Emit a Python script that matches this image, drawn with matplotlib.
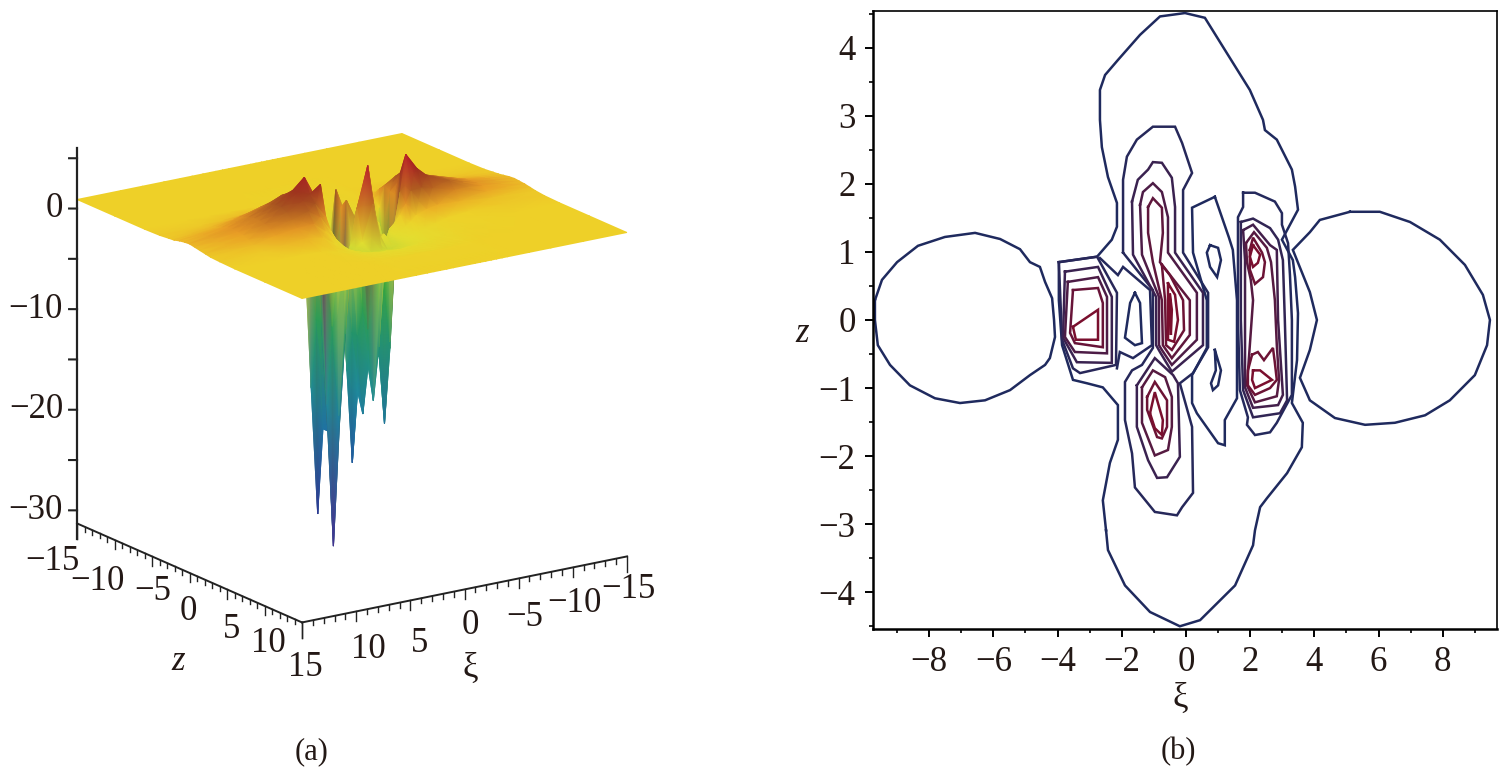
import numpy as np
import matplotlib
matplotlib.use("Agg")
import matplotlib.pyplot as plt
from matplotlib.colors import LinearSegmentedColormap, Normalize
from matplotlib.ticker import FixedLocator, MultipleLocator

plt.rcParams['font.family'] = ['Liberation Serif', 'DejaVu Serif']

# ---- panel (a): surface heights ----
xi_nodes = [-15, -11, -8, -6, -5, -4, -3.5, -3, -2.5, -2, -1.5, -1, -.5, 0, 1, 1.6, 2.2, 2.8, 3.4, 4.4, 5.5, 7, 9, 11, 15]
z_nodes = [-15, -10, -6, -4, -2.8, -2.1, -1.4, -0.7, 0, 0.7, 1.4, 2.1, 2.8, 4, 6, 10, 15]
heights = [
    [.9, .9, .9, .9, .9, .9, .9, .9, .9, .9, .9, .9, .9, .9, .9, .9, .9, .9, .9, .9, .9, .9, .9, .9, .9],
    [.9, .9, .9, .9, .9, .85, .85, .85, .85, .8, .8, .8, .8, .8, .8, .8, .8, .85, .85, .85, .9, .9, .9, .9, .9],
    [.9, .9, .9, .85, .8, .75, .7, .65, .6, .6, .55, .55, .55, .55, .55, .6, .6, .65, .7, .75, .85, .9, .9, .9, .9],
    [.95, 1.05, 1.1, 1.1, 1, .8, .7, .6, .5, .4, .3, .2, .2, .2, .3, .4, .5, .6, .8, 1.1, 1.3, 1.3, 1.15, 1.05, .95],
    [1.05, 1.3, 1.6, 1.8, 1.7, 1.3, 1, .6, .2, -.2, -.6, -1, -1, -.8, -.3, 0, .3, .6, 1, 1.7, 2.1, 2, 1.6, 1.3, 1.05],
    [1.1, 1.5, 2.1, 2.5, 2.5, 2, 1.2, .2, -.8, -1.6, -4, -8, -5, -2, -.8, -1, -3, -1, 1.2, 2.6, 3, 2.6, 2, 1.5, 1.1],
    [1.2, 1.7, 2.6, 3.2, 3.3, 2.6, .5, -3, -2.5, -3, -16, -24.3, -15, -4, -1, -15, -28.7, -16, 1, 3.4, 3.7, 3, 2.3, 1.7, 1.25],
    [1.3, 1.9, 2.9, 3.6, 3.9, 2.2, -7, -14, -8, -1, -10, -17, -11, .5, 3.5, -8, -20, -9, 2, 3.8, 4.1, 3.3, 2.5, 1.9, 1.35],
    [1.35, 2, 3, 3.8, 4.3, 2.2, -13, -20.4, -12, .2, -10, -19, -11, -1, 2, -8, -20, -9, 2, 5.7, 4.6, 3.5, 2.6, 2, 1.4],
    [1.3, 2, 3.1, 3.9, 4.7, 4.6, -3, -12, -6, 0, -9, -14, -8, -1, 2.9, -18, -31.2, -17, 5, 4.2, 4.6, 3.5, 2.6, 1.9, 1.3],
    [1.25, 1.9, 3.1, 4, 5, 6.6, 3, 0, -.5, -2, -12, -17.2, -10, 4, -1, -10, -18, -9, 2, 3.5, 4, 3.2, 2.5, 1.8, 1.2],
    [1.15, 1.6, 2.4, 3, 3.3, 3.2, 2, 1, .2, -.5, -1.5, -3.5, 3, 6.6, 2.5, -1, -3, -1, .8, 2.4, 3.2, 2.7, 2.2, 1.6, 1.1],
    [1.05, 1.2, 1.5, 1.6, 1.4, 1, .5, .1, -.3, -.6, -1, -.2, -.8, 3, -.6, -1, -1.2, -.6, .2, 1.2, 2.2, 2.1, 1.8, 1.3, 1],
    [.95, .95, .9, .7, .4, .1, -.1, -.4, -.6, -.8, -1, -1.2, -1.3, -1.2, -1.2, -1.1, -1, -.7, -.3, .4, 1.2, 1.5, 1.3, 1.05, .95],
    [.9, .85, .7, .5, .3, .1, 0, -.1, -.2, -.3, -.4, -.4, -.5, -.5, -.4, -.4, -.3, -.2, -.1, .2, .5, .8, .9, .9, .9],
    [.9, .9, .85, .8, .75, .7, .7, .65, .65, .6, .6, .6, .6, .6, .6, .6, .6, .65, .65, .7, .75, .8, .85, .9, .9],
    [.9, .9, .9, .9, .9, .9, .9, .9, .9, .9, .9, .9, .9, .9, .9, .9, .9, .9, .9, .9, .9, .9, .9, .9, .9],
]
h_stops = [-33, -28, -23, -17, -11, -6, -2.5, -0.5, 0.9, 2, 3.5, 5, 7]
h_colors = ['#5a1a8c', '#2a3496', '#1f5aa8', '#1f8a9e', '#23946a', '#3aa83a', '#a4cc3a',
            '#e4de30', '#eed028', '#e89a25', '#a85520', '#9c2a1e', '#c0162a']
h_ticks = [5, 0, -5, -10, -15, -20, -25, -30]
h_labels = {0: '0', -10: '\u221210', -20: '\u221220', -30: '\u221230'}
z_axis_labels = ['\u221215', '\u221210', '\u22125', '0', '5', '10', '15']
z_axis_label_px = [(52, 561), (97, 582), (153, 592), (188, 612), (232, 630), (268, 644), (305, 667)]
xi_axis_labels = ['10', '5', '0', '\u22125', '\u221210', '\u221215']
xi_axis_label_px = [(368, 650), (420, 643), (470, 625), (525, 617), (574, 604), (628, 590)]

# ---- panel (b): contour lines, (xi, z) ----
left_lobe = [(-9.69, .29), (-9.47, .59), (-9.0, .85), (-8.35, 1.09), (-7.51, 1.22), (-6.57, 1.28), (-5.79, 1.19),
             (-5.17, 1.04), (-4.86, .85), (-4.55, .78), (-4.39, .56), (-4.17, .32), (-4.11, 0), (-4.08, -.25),
             (-4.24, -.56), (-4.39, -.66), (-4.86, -.81), (-5.48, -1.03), (-6.26, -1.18), (-7.04, -1.22),
             (-7.82, -1.15), (-8.6, -.96), (-9.22, -.66), (-9.6, -.37), (-9.69, 0)]
right_lobe = [(5.11, 1.59), (6.04, 1.59), (6.98, 1.44), (7.91, 1.18), (8.69, .81), (9.25, .37), (9.47, 0), (9.38, -.37),
              (9.0, -.81), (8.22, -1.18), (7.45, -1.4), (6.51, -1.51), (5.58, -1.54), (4.64, -1.44), (3.86, -1.18),
              (3.55, -.85), (3.86, -.44), (4.08, 0), (3.86, .41), (3.33, 1.03), (3.86, 1.29), (4.17, 1.47)]
outer = [(-2.49, -3.09), (-2.59, -2.65), (-2.37, -2.1), (-2.12, -1.76), (-2.12, -1.25), (-2.59, -.99), (-3.08, -.93),
         (-3.52, -.88), (-3.86, -.37), (-3.96, .29), (-3.96, .85), (-2.77, .93), (-2.31, 1.18), (-2.15, 1.37),
         (-2.15, 1.72), (-2.43, 2.1), (-2.62, 2.54), (-2.68, 2.94), (-2.68, 3.38), (-2.52, 3.6), (-2.12, 3.82),
         (-1.43, 4.19), (-.81, 4.46), (-.03, 4.51), (.59, 4.44), (1.21, 3.97), (1.99, 3.38), (2.4, 2.94), (2.46, 2.79),
         (2.83, 2.65), (3.3, 2.21), (3.4, 1.96), (3.49, 1.62), (3.15, 1.32), (2.99, 1.18), (3.33, .88), (3.4, .63),
         (3.49, .1), (3.46, -.59), (3.3, -1.22), (3.64, -1.51), (3.61, -1.87), (3.15, -2.25), (2.52, -2.62),
         (2.31, -2.75), (2.15, -3.09), (2.09, -3.31), (1.53, -3.9), (.44, -4.41), (-.19, -4.5), (-1.12, -4.29),
         (-1.9, -3.9), (-2.43, -3.38)]
second = [(-1.96, .99), (-1.96, 2.06), (-1.84, 2.4), (-1.53, 2.65), (-1.03, 2.84), (-.34, 2.84), (-.12, 2.6), (.19, 2.16),
          (-.09, 1.91), (-.09, .99), (.69, .4), (.69, -.4), (.22, -.78), (-.19, -.93), (.19, -1.57), (.22, -2.54),
          (-.12, -2.75), (-.28, -2.87), (-.97, -2.82), (-1.59, -2.46), (-1.68, -1.96), (-1.9, -1.47), (-1.9, -.91),
          (-1.68, -.74), (-1.37, -.66), (-1.03, -.41), (-1.03, .44)]
gap_line = [(.9, 1.81), (1.34, 1.21), (1.46, 1.03), (1.59, .29), (1.59, -.88), (1.59, -1.15), (1.21, -1.47), (1.21, -1.84),
            (1.0, -1.81), (.34, -1.37), (.19, -1.22), (.19, -.81), (.65, -.41), (.65, .29), (.22, .99), (.19, 1.65)]
oval_top = [(.75, 1.1), (1.0, 1.06), (1.09, .88), (.97, .63), (.75, .78), (.65, .99)]
oval_low = [(.9, -.44), (1.09, -.74), (1.0, -.96), (.84, -1.03), (.78, -.93), (.93, -.74)]
oval_left = [(-1.59, .4), (-1.43, .25), (-1.37, -.34), (-1.59, -.37), (-1.9, -.26), (-1.74, .25)]
link_line = [(-2.68, .91), (-2.12, .66), (-1.96, .78), (-1.12, .44), (-1.06, -.37), (-1.65, -.56), (-2.06, -.47), (-2.15, -.71)]
blob_a = [(-3.96, .85), (-2.77, .93), (-2.15, .4), (-2.18, -.66), (-3.3, -.78), (-3.52, -.71), (-3.86, -.29)]
blob_b = [(-3.77, .71), (-2.74, .78), (-2.31, .34), (-2.31, -.63), (-3.4, -.62), (-3.83, -.26)]
blob_c = [(-3.68, .56), (-2.74, .63), (-2.46, .34), (-2.46, -.49), (-3.46, -.47), (-3.77, -.25)]
blob_d = [(-3.52, .44), (-2.74, .47), (-2.59, .25), (-2.59, -.4), (-3.46, -.34), (-3.61, -.19)]
blob_e = [(-3.52, -.1), (-2.74, .15), (-2.74, -.29), (-3.43, -.29)]
stack_1 = [(-1.68, 1.74), (-1.5, 2.06), (-1.18, 2.21), (-1.03, 2.32), (-.75, 2.31), (-.44, 2.09), (-.34, 1.66), (-.34, .99),
           (.53, .4), (.53, -.37), (-.44, -.76), (-.81, -.47), (-.93, -.37), (-.93, .34), (-1.65, .96)]
stack_2 = [(-1.43, 1.69), (-1.34, 1.88), (-1.03, 2.01), (-.75, 1.88), (-.56, 1.51), (-.56, .99), (.34, .4), (.34, -.29),
           (-.44, -.66), (-.75, -.44), (-.84, -.37), (-.84, .34), (-1.37, .96)]
stack_3 = [(-1.18, 1.66), (-1.03, 1.79), (-.75, 1.65), (-.72, 1.28), (-.81, .85), (.12, .29), (.12, -.22), (-.44, -.56),
           (-.72, -.37), (-.75, .29), (-1.03, .85), (-1.18, 1.28)]
stack_4 = [(-.75, .81), (-.5, .66), (-.09, .29), (-.06, -.15), (-.44, -.44), (-.62, -.37), (-.65, .29)]
stack_5 = [(-.56, .54), (-.34, .37), (-.25, 0), (-.37, -.32), (-.56, -.29), (-.56, .15)]
stack_6 = [(-.5, .37), (-.44, .15), (-.47, -.22), (-.5, 0)]
low_1 = [(-1.53, -.96), (-1.53, -1.57), (-1.18, -2.06), (-.9, -2.32), (-.59, -2.31), (-.19, -2.01), (-.25, -.93), (-.4, -.81), (-.97, -.56)]
low_2 = [(-1.37, -.99), (-1.03, -.74), (-.65, -.84), (-.44, -1.13), (-.44, -1.57), (-.56, -1.91), (-.97, -1.99), (-1.37, -1.51)]
low_3 = [(-1.21, -1.13), (-.97, -.91), (-.59, -1.18), (-.59, -1.57), (-.75, -1.74), (-.9, -1.72), (-1.21, -1.32)]
low_4 = [(-1.12, -1.37), (-.97, -1.06), (-.72, -1.47), (-.75, -1.69), (-.97, -1.59)]
right_1 = [(1.78, 1.87), (2.15, 1.87), (2.77, 1.74), (2.99, 1.57), (2.99, 1.4), (3.18, 1.13), (3.24, .66), (3.3, 0), (3.3, -1.1),
           (2.83, -1.51), (2.62, -1.65), (2.15, -1.69), (1.9, -1.54), (1.93, -1.43), (1.68, -1.03), (1.62, 0), (1.62, 1.51), (1.78, 1.66)]
right_2 = [(1.71, 1.44), (2.09, 1.49), (2.62, 1.35), (2.87, 1.18), (3.02, .88), (3.08, 0), (3.15, -1.18), (2.93, -1.37),
           (2.09, -1.43), (1.78, -1.03), (1.71, 0)]
right_3 = [(1.78, 1.32), (2.09, 1.4), (2.62, 1.1), (2.83, 1.03), (2.87, 0), (3.02, -1.1), (2.87, -1.25), (2.09, -1.29), (1.84, -.99), (1.84, .88)]
right_4 = [(1.87, 1.13), (2.12, 1.29), (2.52, 1.06), (2.65, .85), (2.77, .29), (2.83, -.37), (2.9, -.88), (2.83, -1.12),
           (2.15, -1.21), (1.9, -.96), (1.99, -.37), (2.09, .29), (2.02, .59), (1.9, .85)]
upper_1 = [(1.99, 1.03), (2.09, 1.21), (2.37, .99), (2.46, .85), (2.4, .63), (2.15, .53), (1.99, .74)]
upper_2 = [(2.09, 1.1), (2.31, .96), (2.24, .84), (2.09, .78), (1.99, .93)]
lower_1 = [(2.06, -.51), (2.24, -.47), (2.43, -.59), (2.71, -.41), (2.77, -.63), (2.83, -.88), (2.62, -1.0), (2.15, -1.1), (1.93, -.96), (1.93, -.74)]
lower_2 = [(2.09, -.74), (2.31, -.74), (2.68, -.88), (2.15, -1.0), (2.06, -.88)]

# line, how far it is from navy to maroon, closed or not
contours = [
    (left_lobe, 0, True), (right_lobe, 0, True), (outer, 0, True), (second, .08, True), (gap_line, 0, True),
    (oval_top, 0, True), (oval_low, 0, True), (oval_left, 0, True), (link_line, .05, False),
    (blob_a, .1, True), (blob_b, .3, True), (blob_c, .5, True), (blob_d, .8, True), (blob_e, 1, True),
    (stack_1, .3, True), (stack_2, .5, True), (stack_3, .7, True), (stack_4, .85, True), (stack_5, 1, True), (stack_6, 1, True),
    (low_1, .3, True), (low_2, .6, True), (low_3, .85, True), (low_4, 1, True),
    (right_1, .05, True), (right_2, .2, True), (right_3, .4, True), (right_4, .6, True),
    (upper_1, .85, True), (upper_2, 1, True), (lower_1, .85, True), (lower_2, 1, True),
]
xi_ticks = [-8, -6, -4, -2, 0, 2, 4, 6, 8]
z_ticks = [-4, -3, -2, -1, 0, 1, 2, 3, 4]

W, H = 1501, 770
fig = plt.figure(figsize=(W / 100, H / 100), dpi=100)
text_col = '#231815'
fs = 25


# orthographic view: pixels per unit measured from the box corners
def project(xi, z, h):
    xi, z, h = np.asarray(xi, float), np.asarray(z, float), np.asarray(h, float)
    return 352 - 10.83 * xi + 7.5 * z, 216 + 2.2 * xi + 3.3 * z - 10.06 * (h - 0.9)


ax = fig.add_axes([0, 0, 692 / W, 1])
ax.set_xlim(0, 692)
ax.set_ylim(H, 0)
ax.axis('off')

positions = (np.array(h_stops) - h_stops[0]) / (h_stops[-1] - h_stops[0])
cmap = LinearSegmentedColormap.from_list('height', list(zip(positions, h_colors)))
XI, ZZ = np.meshgrid(xi_nodes, z_nodes)
HH = np.array(heights)
# rows run from the back corner to the front one, so later quads cover earlier ones
PX, PY = project(XI, ZZ, HH)
ax.pcolormesh(PX, PY, HH, shading='gouraud', cmap=cmap, norm=Normalize(h_stops[0], h_stops[-1]))

floor = -31.3
top = 6
ax.plot(*project([15, 15], [-15, -15], [top, floor - 1.5]), color='#222222', lw=1.6)
ax.plot(*project([15, 15], [-15, 15], [floor, floor]), color='#222222', lw=1.4)
ax.plot(*project([15, -15], [15, 15], [floor, floor]), color='#222222', lw=1.4)
for t in h_ticks:
    ax.plot(*project([15, 15.5], [-15, -15.34], [t, t]), color='#222222', lw=1.5)
    if t in h_labels:
        x, y = project(15.5, -15.34, t)
        ax.text(x - 6, y, h_labels[t], ha='right', va='center', fontsize=fs, color=text_col)
for v in range(-15, 16):
    d = 1.5 if v in (-15, 15) else (0.95 if v % 5 == 0 else 0.5)
    ax.plot(*project([15, 15], [v, v], [floor, floor - d]), color='#222222', lw=1.0)
    ax.plot(*project([v, v], [15, 15], [floor, floor - d]), color='#222222', lw=1.0)
for lab, (x, y) in zip(z_axis_labels, z_axis_label_px):
    ax.text(x, y, lab, ha='center', va='center', fontsize=fs, color=text_col)
for lab, (x, y) in zip(xi_axis_labels, xi_axis_label_px):
    ax.text(x, y, lab, ha='center', va='center', fontsize=fs, color=text_col)
ax.text(178, 661, 'z', ha='center', va='center', fontsize=fs, style='italic', color=text_col)
ax.text(470, 668, '\u03be', ha='center', va='center', fontsize=fs, color=text_col)
ax.text(312, 752, '(a)', ha='center', va='center', fontsize=22, color=text_col)

# panel b
bx = fig.add_axes([873 / W, (H - 629) / H, 624 / W, 618 / H])
bx.set_xlim(-9.75, 9.69)
bx.set_ylim(-4.54, 4.54)
navy = np.array(matplotlib.colors.to_rgb('#1f2a5e'))
maroon = np.array(matplotlib.colors.to_rgb('#7a0f2e'))
for pts, frac, closed in contours:
    a = np.array(pts + pts[:1] if closed else pts)
    bx.plot(a[:, 0], a[:, 1], color=navy + (maroon - navy) * frac, lw=1.8, solid_joinstyle='miter')

bx.xaxis.set_major_locator(FixedLocator(xi_ticks))
bx.yaxis.set_major_locator(FixedLocator(z_ticks))
bx.set_xticklabels([str(t).replace('-', '\u2212') for t in xi_ticks])
bx.set_yticklabels([str(t).replace('-', '\u2212') for t in z_ticks])
bx.xaxis.set_minor_locator(MultipleLocator(1))
bx.yaxis.set_minor_locator(MultipleLocator(0.5))
bx.tick_params(which='major', length=5.5, width=1.4, labelsize=fs, labelcolor=text_col, pad=7)
bx.tick_params(which='minor', length=3, width=1.2)
for side, lw in [('left', 1.8), ('bottom', 1.8), ('top', 1.2), ('right', 1.2)]:
    bx.spines[side].set_linewidth(lw)
fig.text(802 / W, 1 - 333 / H, 'z', ha='center', va='center', fontsize=fs, style='italic', color=text_col)
fig.text(1180 / W, 1 - 698 / H, '\u03be', ha='center', va='center', fontsize=fs, color=text_col)
fig.text(1178 / W, 1 - 752 / H, '(b)', ha='center', va='center', fontsize=22, color=text_col)

fig.savefig('out.png', dpi=100)
